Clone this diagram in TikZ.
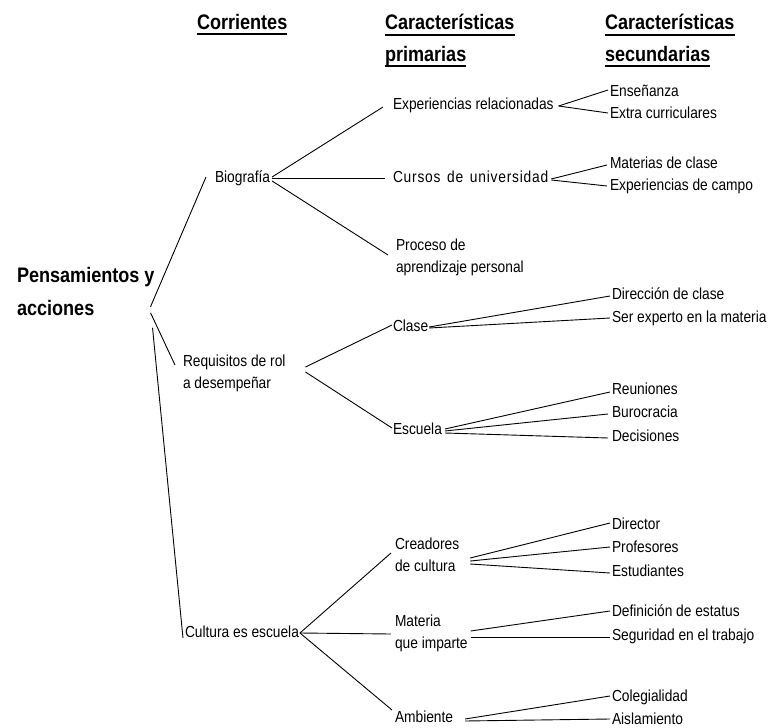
\documentclass[tikz,border=0pt]{standalone}
\usepackage{fontspec}
\setmainfont{Liberation Sans}[FakeStretch=0.86]
\usetikzlibrary{calc}
\newcommand\txtfont{\fontsize{16}{22}\selectfont}
\newcommand\hdrfont{\fontsize{21}{30}\selectfont\bfseries}
\newcommand\topfont{\fontsize{21}{33}\selectfont\bfseries}
\newcommand\lnstrut{\rule[-3.5pt]{0pt}{15.2pt}}
\newcommand\tpstrut{\rule[-5pt]{0pt}{20.5pt}}
\begin{document}
\begin{tikzpicture}[x=1pt,y=-1pt,
  lbl/.style={anchor=west, inner sep=0pt, outer sep=0pt, font=\txtfont,
              text height=11.7pt, text depth=3.5pt},
  lbltwo/.style={anchor=west, inner sep=0pt, outer sep=0pt, font=\txtfont, align=left},
  hdr/.style={anchor=base west, inner sep=0pt, outer sep=0pt, font=\hdrfont, text depth=5pt},
  topic/.style={anchor=west, inner sep=0pt, outer sep=0pt, font=\topfont, align=left},
  link/.style={line width=0.9pt},
  uline/.style={line width=1.6pt}]
\useasboundingbox (0,0) rectangle (769,728);

% column headings
\node[hdr] (hc)  at (197,29) {Corrientes};
\node[hdr] (hp1) at (385,30) {Características};
\node[hdr] (hp2) at (385,61) {primarias};
\node[hdr] (hs1) at (605,30) {Características};
\node[hdr] (hs2) at (605,61) {secundarias};
\foreach \h in {hc,hp1,hp2,hs1,hs2}
  \draw[uline] (\h.south west) -- (\h.south east);

% root
\node[topic] (root) at (17,294) {\tpstrut Pensamientos y\\\tpstrut acciones};

% currents
\node[lbl]    (bio) at (215,178) {Biografía};
\node[lbltwo] (req) at (183,373.5) {\lnstrut Requisitos de rol\\\lnstrut a desempeñar};
\node[lbl]    (cul) at (185,633) {Cultura es escuela};

% primary characteristics
\node[lbl]    (exp) at (393,105) {Experiencias relacionadas};
\node[lbl]    (cur) at (393,178) {\addfontfeatures{LetterSpace=5}Cursos\hspace{2pt} de\hspace{2pt} universidad};
\node[lbltwo] (pro) at (396,257.5) {\lnstrut Proceso de\\\lnstrut aprendizaje personal};
\node[lbl]    (cla) at (393,327) {Clase};
\node[lbl]    (esc) at (393,430) {Escuela};
\node[lbltwo] (cre) at (395,556.5) {\lnstrut Creadores\\\lnstrut de cultura};
\node[lbltwo] (mti) at (395,633.5) {\lnstrut Materia\\\lnstrut que imparte};
\node[lbl]    (amb) at (395,718) {Ambiente};

% secondary characteristics
\node[lbl] (ens)  at (610,92)  {Enseñanza};
\node[lbl] (ext)  at (610,114) {Extra curriculares};
\node[lbl] (mat)  at (610,164) {Materias de clase};
\node[lbl] (cam)  at (610,186) {Experiencias de campo};
\node[lbl] (dir)  at (612,295) {Dirección de clase};
\node[lbl] (ser)  at (612,318) {Ser experto en la materia};
\node[lbl] (reu)  at (612,390) {Reuniones};
\node[lbl] (bur)  at (612,413) {Burocracia};
\node[lbl] (dec)  at (612,437) {Decisiones};
\node[lbl] (dirc) at (612,525) {Director};
\node[lbl] (prof) at (612,548) {Profesores};
\node[lbl] (est)  at (612,572) {Estudiantes};
\node[lbl] (def)  at (612,612) {Definición de estatus};
\node[lbl] (seg)  at (612,636) {Seguridad en el trabajo};
\node[lbl] (col)  at (612,697) {Colegialidad};
\node[lbl] (ais)  at (612,720) {Aislamiento};

% root to currents
\draw[link] ($(root.south east)+(-4,-14)$) -- ($(bio.west)+(-9,-1)$);
\draw[link] ($(root.south east)+(-4,-8)$)  -- ($(req.west)+(-8,-8.5)$);
\draw[link] ($(root.south east)+(-2,7)$)   -- ($(cul.west)+(-2,5)$);

% currents to primary characteristics
\draw[link] ($(bio.east)+(2,-1)$) -- ($(exp.west)+(-10,2)$);
\draw[link] ($(bio.east)+(2,0)$)  -- ($(cur.west)+(-8,0)$);
\draw[link] ($(bio.east)+(2,3)$)  -- ($(pro.west)+(-8,-2.5)$);
\draw[link] ($(req.east)+(20,-6.5)$) -- ($(cla.west)+(-1,-2)$);
\draw[link] ($(req.east)+(20,-1.5)$) -- ($(esc.west)+(-1,-2)$);
\draw[link] ($(cul.east)+(1,0)$) -- ($(cre.west)+(-4,-3.5)$);
\draw[link] ($(cul.east)+(1,0)$) -- ($(mti.west)+(-4,0.5)$);
\draw[link] ($(cul.east)+(1,0)$) -- ($(amb.west)+(-3,-8)$);

% primary to secondary characteristics
\draw[link] ($(exp.east)+(5,1)$) -- ($(ens.west)+(-2,-2)$);
\draw[link] ($(exp.east)+(5,1)$) -- ($(ext.west)+(-2,-1)$);
\draw[link] ($(cur.east)+(3,1)$) -- ($(mat.west)+(-3,1)$);
\draw[link] ($(cur.east)+(3,2)$) -- ($(cam.west)+(-3,0)$);
\draw[link] ($(cla.east)+(1,0)$) -- ($(dir.west)+(-2,1)$);
\draw[link] ($(cla.east)+(1,1)$) -- ($(ser.west)+(-2,0)$);
\draw[link] ($(esc.east)+(3,-1)$) -- ($(reu.west)+(-2,2)$);
\draw[link] ($(esc.east)+(3,1)$)  -- ($(bur.west)+(-4,1)$);
\draw[link] ($(esc.east)+(3,3)$)  -- ($(dec.west)+(-4,1)$);
\draw[link] ($(cre.east)+(11,1.5)$) -- ($(dirc.west)+(-2,-2)$);
\draw[link] ($(cre.east)+(11,4.5)$) -- ($(prof.west)+(-2,-1)$);
\draw[link] ($(cre.east)+(11,7.5)$) -- ($(est.west)+(-2,1)$);
\draw[link] ($(mti.east)+(3,-2.5)$) -- ($(def.west)+(-2,-1)$);
\draw[link] ($(mti.east)+(3,3.5)$)  -- ($(seg.west)+(-2,1)$);
\draw[link] ($(amb.east)+(12,1)$) -- ($(col.west)+(-2,-1)$);
\draw[link] ($(amb.east)+(12,3)$) -- ($(ais.west)+(-2,-1)$);
\end{tikzpicture}
\end{document}
